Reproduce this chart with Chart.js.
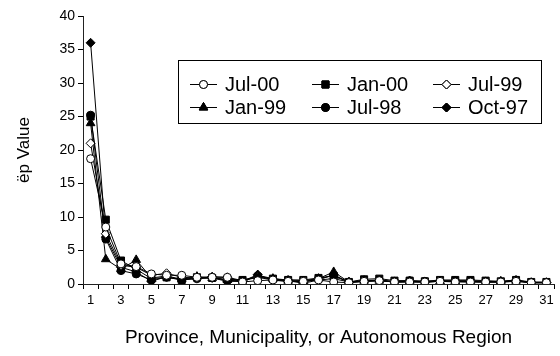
<!DOCTYPE html>
<html>
<head>
<meta charset="utf-8">
<script src="https://cdn.jsdelivr.net/npm/chart.js@4/dist/chart.umd.min.js"></script>
<style>
  html, body { margin: 0; padding: 0; background: #fff; }
</style>
</head>
<body>
<canvas id="chart" width="560" height="356"></canvas>
<script>
const categories = ['1','2','3','4','5','6','7','8','9','10','11','12','13','14','15','16',
  '17','18','19','20','21','22','23','24','25','26','27','28','29','30','31'];

const jul00 = [18.7, 8.5, 3.0, 2.6, 1.5, 1.3, 1.3, 1.0, 1.0, 1.0, 0.3, 0.5, 0.6, 0.4, 0.4, 0.6,
  0.3, 0.2, 0.4, 0.5, 0.3, 0.3, 0.3, 0.4, 0.3, 0.3, 0.3, 0.3, 0.4, 0.2, 0.2];
const jan00 = [25.0, 9.6, 3.5, 2.2, 0.8, 1.0, 0.6, 1.0, 0.9, 0.7, 0.6, 1.0, 0.8, 0.6, 0.6, 0.9,
  1.2, 0.3, 0.7, 0.8, 0.5, 0.5, 0.4, 0.6, 0.6, 0.6, 0.5, 0.4, 0.6, 0.3, 0.3];
const jul99 = [21.0, 7.5, 2.8, 2.5, 1.3, 1.6, 1.0, 0.9, 1.1, 1.0, 0.5, 1.0, 0.6, 0.4, 0.4, 0.6,
  0.8, 0.3, 0.4, 0.5, 0.3, 0.3, 0.3, 0.4, 0.4, 0.3, 0.3, 0.3, 0.4, 0.2, 0.2];
const jan99 = [24.0, 3.7, 2.2, 3.6, 0.9, 1.2, 0.7, 1.1, 0.9, 0.6, 0.3, 1.3, 0.8, 0.5, 0.3, 0.8,
  1.8, 0.3, 0.5, 0.5, 0.3, 0.4, 0.3, 0.4, 0.4, 0.4, 0.3, 0.4, 0.5, 0.2, 0.2];
const jul98 = [25.2, 6.7, 2.0, 1.5, 0.6, 1.0, 0.7, 0.8, 1.0, 0.5, 0.5, 1.2, 0.7, 0.6, 0.5, 0.8,
  1.3, 0.3, 0.5, 0.6, 0.4, 0.5, 0.4, 0.5, 0.5, 0.5, 0.4, 0.3, 0.6, 0.2, 0.2];
const oct97 = [36.0, 7.0, 2.5, 1.8, 0.4, 1.1, 0.6, 0.8, 0.9, 0.4, 0.4, 1.4, 0.5, 0.5, 0.1, 0.6,
  1.4, 0.2, 0.4, 0.5, 0.3, 0.4, 0.3, 0.4, 0.4, 0.4, 0.3, 0.3, 0.5, 0.2, 0.2];

const yTicks = [0, 5, 10, 15, 20, 25, 30, 35, 40];

const FONT = '"Liberation Sans", Arial, Helvetica, sans-serif';

function series(label, data, style, radius, filled) {
  return {
    label: label,
    data: data,
    borderColor: '#000',
    borderWidth: 1,
    pointStyle: style,
    pointRadius: radius,
    pointBorderWidth: 1,
    pointBorderColor: '#000',
    pointBackgroundColor: filled ? '#000' : '#fff',
    tension: 0
  };
}

const datasets = [
  series('Jul-00', jul00, 'circle', 4, false),
  series('Jan-00', jan00, 'rect', 5, true),
  series('Jul-99', jul99, 'rectRot', 4.5, false),
  series('Jan-99', jan99, 'triangle', 5, true),
  series('Jul-98', jul98, 'circle', 4, true),
  series('Oct-97', oct97, 'rectRot', 4.5, true)
];

// legend box drawn inside the plot, like the original
const boxLegend = {
  id: 'boxLegend',
  afterDraw(chart) {
    const ctx = chart.ctx;
    ctx.save();
    ctx.fillStyle = '#fff';
    ctx.fillRect(178.5, 60.5, 363, 63);
    ctx.strokeStyle = '#000';
    ctx.lineWidth = 1;
    ctx.strokeRect(178.5, 60.5, 363, 63);
    const cols = [190, 312, 433];
    const rows = [84, 107];
    ctx.font = '20px ' + FONT;
    ctx.textBaseline = 'middle';
    chart.data.datasets.forEach((ds, i) => {
      const x = cols[i % 3];
      const y = rows[Math.floor(i / 3)];
      ctx.beginPath();
      ctx.moveTo(x, y + 0.5);
      ctx.lineTo(x + 27, y + 0.5);
      ctx.strokeStyle = '#000';
      ctx.lineWidth = 1;
      ctx.stroke();
      Chart.helpers.drawPoint(ctx, {
        pointStyle: ds.pointStyle,
        radius: ds.pointRadius,
        borderWidth: 1
      }, x + 13.5, y + 0.5);
      ctx.fillStyle = ds.pointBackgroundColor;
      ctx.strokeStyle = '#000';
      ctx.fill();
      ctx.stroke();
      ctx.fillStyle = '#000';
      ctx.fillText(ds.label, x + 35, y + 1);
    });
    ctx.restore();
  }
};

new Chart(document.getElementById('chart'), {
  type: 'line',
  data: { labels: categories, datasets: datasets },
  plugins: [boxLegend],
  options: {
    responsive: false,
    animation: false,
    layout: { padding: { top: 16, right: 0, left: 0, bottom: 0 } },
    plugins: { legend: { display: false }, tooltip: { enabled: false } },
    scales: {
      x: {
        offset: true,
        grid: { offset: true, drawOnChartArea: false, tickLength: 5, tickColor: '#000' },
        border: { color: '#222', width: 1 },
        ticks: {
          autoSkip: false, maxRotation: 0, padding: 4, color: '#000',
          font: { family: FONT, size: 13 },
          callback: (v, i) => (i % 2 === 0 ? categories[i] : '')
        },
        title: {
          display: true, text: 'Province, Municipality, or Autonomous Region',
          color: '#000', font: { family: FONT, size: 19 }, padding: { bottom: 7 }
        },
        afterFit: s => { s.height = 72; }
      },
      y: {
        min: 0, max: 40,
        afterBuildTicks: s => { s.ticks = yTicks.map(v => ({ value: v })); },
        grid: { drawOnChartArea: false, tickLength: 5, tickColor: '#000' },
        border: { color: '#222', width: 1 },
        ticks: { padding: 3, color: '#000', font: { family: FONT, size: 14 } },
        title: {
          display: true, text: 'ëp Value',
          color: '#000', font: { family: FONT, size: 17 }, padding: { top: 14 }
        },
        afterFit: s => { s.width = 83; }
      }
    }
  }
});
</script>
</body>
</html>
